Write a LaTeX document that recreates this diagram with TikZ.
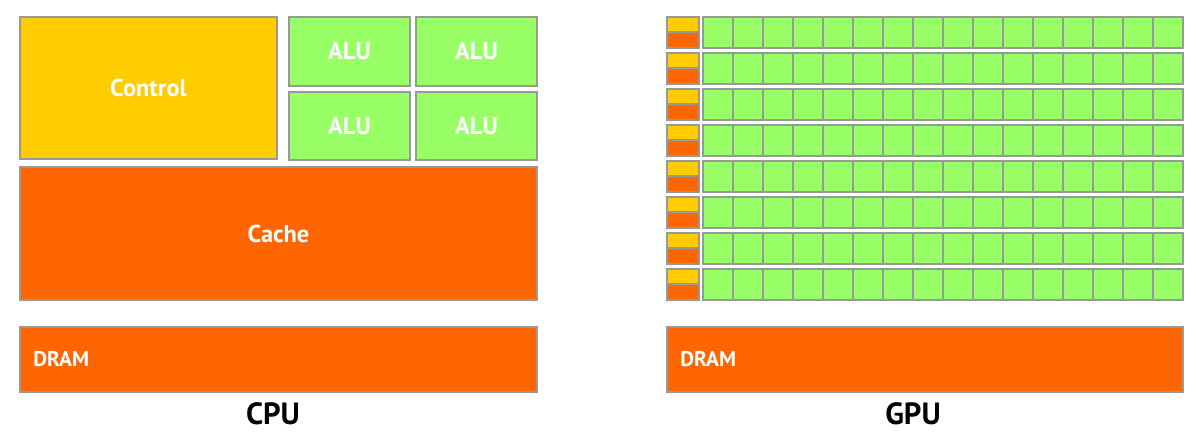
\documentclass[tikz,border=0pt]{standalone}
\usepackage{fontspec}
\setmainfont{PT Sans}
\definecolor{ctrlyellow}{HTML}{FFCC00}
\definecolor{cacheorange}{HTML}{FF6600}
\definecolor{alugreen}{HTML}{99FF66}
\definecolor{edgegray}{HTML}{999999}
\tikzset{
  blk/.style={draw=edgegray, line width=1.4pt},
  ctrlblk/.style={blk, fill=ctrlyellow},
  cacheblk/.style={blk, fill=cacheorange},
  alublk/.style={blk, fill=alugreen},
  lbl/.style={text=white, font=\bfseries\fontsize{18.3}{21}\selectfont, inner sep=0pt},
  dramlbl/.style={text=white, font=\bfseries\fontsize{16}{19}\selectfont, inner sep=0pt, anchor=west},
  title/.style={font=\bfseries\fontsize{23}{27}\selectfont, inner sep=0pt}
}

\begin{document}
\begin{tikzpicture}[x=0.75pt, y=-0.75pt]
\useasboundingbox (0,0) rectangle (1197,448);
% CPU
\draw[ctrlblk] (20,17) rectangle (277,159);
\node[lbl] (control) at (148.5,88) {Control};
\draw[alublk] (289,17) rectangle (410,86);
\node[lbl] (alua) at (349.5,51.5) {ALU};
\draw[alublk] (416,17) rectangle (537,86);
\node[lbl] (alub) at (476.5,51.5) {ALU};
\draw[alublk] (289,92) rectangle (410,160);
\node[lbl] (aluc) at (349.5,126) {ALU};
\draw[alublk] (416,92) rectangle (537,160);
\node[lbl] (alud) at (476.5,126) {ALU};
\draw[cacheblk] (20,167) rectangle (537,300);
\node[lbl] (cache) at (278.5,233.5) {Cache};
\draw[cacheblk] (20,327) rectangle (537,392);
\node[dramlbl] (cpudram) at (33,359) {DRAM};
\node[title] (cpu) at (273,414) {CPU};
% GPU
\foreach \r in {0,...,7}{
  \draw[ctrlblk] (667,17+36*\r) rectangle (699,32+36*\r);
  \draw[cacheblk] (667,32+36*\r) rectangle (699,48+36*\r);
  \foreach \c in {0,...,15}
    \draw[alublk] (703+30*\c,17+36*\r) rectangle (733+30*\c,48+36*\r);
}
\draw[cacheblk] (667,327) rectangle (1183,392);
\node[dramlbl] (gpudram) at (680,359) {DRAM};
\node[title] (gpu) at (913,414) {GPU};
\end{tikzpicture}
\end{document}
